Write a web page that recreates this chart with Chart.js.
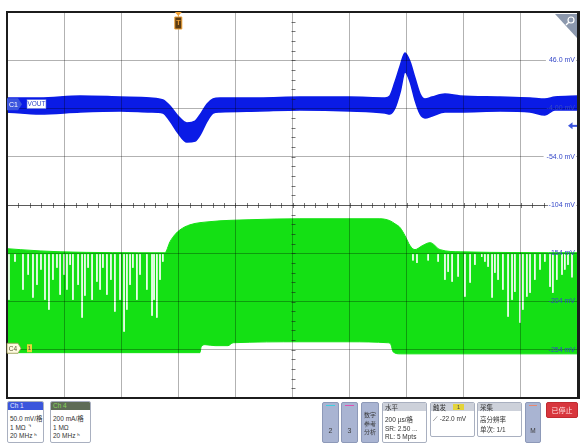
<!DOCTYPE html>
<html>
<head>
<meta charset="utf-8">
<script src="https://cdn.jsdelivr.net/npm/chart.js@4.4.1/dist/chart.umd.min.js"></script>
<style>
  body { margin: 0; width: 582px; height: 445px; background: #fff; position: relative; overflow: hidden;
         font-family: "Liberation Sans", "Noto Sans CJK SC", sans-serif; }
  #scope { position: absolute; left: 0; top: 0; }
  .box { position: absolute; box-sizing: border-box; border: 1px solid #a9b0c0; border-radius: 2px;
         background: #fff; overflow: hidden; color: #333; font-size: 6.5px; }
  .hd { height: 8px; line-height: 8px; padding-left: 2px; font-size: 6.5px; }
  .bd { padding: 4px 0 0 2px; line-height: 8.6px; white-space: nowrap; }
  .key { position: absolute; box-sizing: border-box; border: 1px solid #8d99b8; border-radius: 2px;
         background: #a9b4d2; color: #3a3a3a; text-align: center; font-size: 7px; }
  .key .stripe { position: absolute; left: 3px; right: 3px; top: 2px; height: 1px; }
  .cjk { font-family: "Noto Sans CJK SC", sans-serif; }
</style>
</head>
<body>
<canvas id="scope" width="582" height="445"></canvas>

<!-- channel / timebase / trigger panels -->
<div class="box" style="left:7px;top:401px;width:37px;height:42px">
  <div class="hd" style="background:#3b56dc;color:#e6ebff">Ch 1</div>
  <div class="bd">50.0 mV/<span class="cjk">格</span><br>1 MΩ ⌝<br>20 MHz ʰ</div>
</div>
<div class="box" style="left:50px;top:401px;width:41px;height:42px">
  <div class="hd" style="background:#5e6c56;color:#86d45a">Ch 4</div>
  <div class="bd">200 mA/<span class="cjk">格</span><br>1 MΩ<br>20 MHz ʰ</div>
</div>

<div class="key" style="left:322px;top:402px;width:17px;height:41px">
  <div class="stripe" style="background:#3fd0e0"></div>
  <div style="position:absolute;left:0;right:0;top:24px">2</div>
</div>
<div class="key" style="left:341px;top:402px;width:17px;height:41px">
  <div class="stripe" style="background:#e050b0"></div>
  <div style="position:absolute;left:0;right:0;top:24px">3</div>
</div>
<div class="key cjk" style="left:361px;top:402px;width:18px;height:41px;font-size:6px;line-height:8.5px;padding-top:8px">数字<br>参考<br>分析</div>

<div class="box" style="left:382px;top:402px;width:45px;height:41px">
  <div class="hd cjk" style="background:#cdd1da">水平</div>
  <div class="bd">200 µs/<span class="cjk">格</span><br>SR: 2.50 ...<br>RL: 5 Mpts</div>
</div>
<div class="box" style="left:430px;top:402px;width:45px;height:35px">
  <div class="hd cjk" style="background:#cdd1da;position:relative">触发
    <span style="position:absolute;left:22px;top:1px;width:11px;height:6px;line-height:6px;background:#e4d43a;color:#444;text-align:center;font-size:5.5px;font-family:'Liberation Sans'">1</span></div>
  <div class="bd">⟋ -22.0 mV</div>
</div>
<div class="box" style="left:477px;top:402px;width:45px;height:35px">
  <div class="hd cjk" style="background:#cdd1da">采集</div>
  <div class="bd"><span class="cjk">高分辨率</span><br><span class="cjk">单次</span>: 1/1</div>
</div>
<div class="key" style="left:525px;top:402px;width:16px;height:41px">
  <div class="stripe" style="background:#e88870"></div>
  <div style="position:absolute;left:0;right:0;top:24px;font-size:6.5px">M</div>
</div>
<div class="box cjk" style="left:546px;top:402px;width:32px;height:16px;background:#d8363d;border-color:#c02a30;color:#ffe2e2;text-align:center;line-height:14px;font-size:7px">已停止</div>

<!-- zoom control in the upper right corner -->
<svg style="position:absolute;left:555px;top:14px" width="24" height="26" viewBox="0 0 24 26">
  <polygon points="0,0 22,0 22,24" fill="#8c98ad"/>
  <circle cx="16" cy="6" r="3" fill="none" stroke="#fff" stroke-width="1.2"/>
  <line x1="13.8" y1="8.2" x2="11" y2="11" stroke="#fff" stroke-width="1.4"/>
</svg>

<script>
// ---- Time base: 200 µs/div, trigger at t = 0 ----
const timeMin = -600;
const timeMax = 1400;
const timeStep = 200;

// ---- Ch1 (VOUT), 50 mV/div ----
const voltMin = -304;
const voltMax = 96;
const voltStep = 50;
const voltTicks = [46, -4, -54, -104, -154, -204, -254];
const voltTickLabels = ['46.0 mV', '-4.00 mV', '-54.0 mV', '-104 mV', '-154 mV', '-204 mV', '-254 mV'];
// labels that sit on a clear background get a white plate behind them
const platedTicks = [46, -54, -104];
const triggerLevel = -22.0;

// ---- Ch4 (inductor current), 200 mA/div ----
const currMin = -200;
const currMax = 1400;

// VOUT trace: upper and lower edge of the noise band (mV)
const voutTime = [-600, -484, -344, -204, -99, -54, -29, -1, 30, 59, 76, 101, 122, 146, 286, 426, 601, 724, 741, 759, 777, 794, 812, 829, 847, 864, 889, 934, 987, 1127, 1232, 1284, 1319, 1400];
const voutHigh = [6.9, 6.9, 9.0, 7.9, 6.9, 4.8, -1.4, -11.8, -19.0, -17.0, -10.7, 0.7, 5.8, 6.9, 6.9, 7.9, 7.9, 6.9, 9.0, 23.5, 40.0, 53.5, 44.2, 27.6, 11.0, 5.8, 7.9, 11.0, 9.0, 7.9, 6.9, 5.8, 7.9, 9.0];
const voutLow = [-7.6, -9.7, -7.6, -6.6, -7.6, -8.7, -17.0, -29.4, -38.7, -37.7, -31.5, -17.0, -8.7, -7.6, -6.6, -5.6, -6.6, -8.7, -9.7, -3.5, 13.1, 33.8, 23.5, 4.8, -9.7, -13.8, -11.8, -7.6, -7.6, -6.6, -7.6, -10.7, -5.6, -5.6];

// Current: peak envelope of the switching ripple (mA)
const peakTime = [-600, -554, -414, -47, -29, -12, 6, 41, 111, 251, 426, 706, 741, 759, 777, 794, 812, 829, 854, 882, 917, 987, 1400];
const peakCurrent = [419, 415, 406, 402, 448, 477, 497, 518, 531, 539, 543, 543, 535, 522, 506, 473, 431, 415, 431, 444, 415, 406, 402];

// Current: valley envelope of the switching ripple (mA)
const valleyTime = [-600, 76, 80, 94, 129, 174, 192, 426, 601, 734, 745, 752, 777, 1400];
const valleyCurrent = [-12, -12, 12, 21, 17, 17, 29, 33, 33, 29, 21, -8, -17, -17];

// Ripple dropouts: where the peak level is missed, and how far down it goes (mA)
const dropTop = 396;
const dropTime = [-593, -572, -544, -526, -509, -495, -481, -467, -453, -439, -425, -414, -400, -390, -379, -369, -351, -337, -327, -316, -302, -285, -274, -264, -250, -236, -222, -204, -190, -180, -169, -159, -145, -134, -110, -92, -85, -75, -64, -54,
                  822, 836, 875, 910, 934, 945, 959, 980, 1004, 1022, 1039, 1063, 1074, 1085, 1099, 1109, 1120, 1137, 1155, 1169, 1179, 1197, 1207, 1221, 1232, 1249, 1267, 1284, 1302, 1312, 1326, 1344, 1354, 1365, 1379];
const dropLow = [207, 365, 249, 311, 216, 269, 332, 207, 166, 290, 340, 228, 311, 249, 352, 207, 269, 133, 224, 340, 207, 282, 249, 340, 228, 290, 158, 207, 75, 166, 269, 340, 207, 311, 249, 141, 207, 133, 290, 365,
                 370, 360, 370, 365, 290, 323, 282, 303, 220, 278, 352, 385, 365, 344, 216, 319, 290, 249, 137, 207, 240, 112, 166, 220, 236, 290, 332, 365, 261, 236, 290, 311, 332, 352, 300];

const BLUE = '#0a1be6';
const GREEN = '#14e014';
const GRID = 'rgba(0,0,0,0.3)';
const LABEL_BLUE = '#3548c8';

const pairs = (xs, ys) => xs.map((x, i) => ({ x, y: ys[i] }));

const dropData = [];
dropTime.forEach((t, i) => {
  dropData.push({ x: t, y: dropTop }, { x: t, y: dropLow[i] }, { x: t, y: null });
});

const gridVolts = [];
for (let v = voltMin; v <= voltMax; v += voltStep) gridVolts.push(v);

// Frame, centre axes with minor ticks, channel tags and markers
const scopeOverlay = {
  id: 'scopeOverlay',
  afterDraw(chart) {
    const { ctx, chartArea: a, scales } = chart;
    const x = scales.x, y = scales.y, yI = scales.yI;
    ctx.save();

    // centre cross with minor divisions
    const cx = Math.round(x.getPixelForValue((timeMin + timeMax) / 2)) + 0.5;
    const cy = Math.round(y.getPixelForValue((voltMin + voltMax) / 2)) + 0.5;
    ctx.strokeStyle = 'rgba(30,30,30,0.6)';
    ctx.lineWidth = 1;
    ctx.beginPath();
    ctx.moveTo(a.left, cy); ctx.lineTo(a.right - 30, cy);
    for (let t = timeMin; t <= timeMax; t += timeStep / 5) {
      const px = Math.round(x.getPixelForValue(t)) + 0.5;
      if (px > a.right - 30) continue;
      ctx.moveTo(px, cy - 2.5); ctx.lineTo(px, cy + 2.5);
    }
    for (let v = voltMin; v <= voltMax; v += voltStep / 5) {
      const py = Math.round(y.getPixelForValue(v)) + 0.5;
      ctx.moveTo(cx - 2, py); ctx.lineTo(cx + 2, py);
    }
    ctx.stroke();

    // frame
    ctx.fillStyle = '#1c1c1c';
    ctx.fillRect(a.left - 1, a.top - 1, a.right - a.left + 2, 2);
    ctx.fillRect(a.left - 1, a.bottom - 1, a.right - a.left + 2, 2);
    ctx.fillRect(a.left - 1, a.top - 1, 2, a.bottom - a.top + 2);
    ctx.fillRect(a.right - 1, a.top - 1, 3, a.bottom - a.top + 2);

    // trigger position marker
    const tx = x.getPixelForValue(0);
    ctx.fillStyle = '#f2a133';
    ctx.beginPath();
    ctx.moveTo(tx - 3.5, a.top); ctx.lineTo(tx + 3.5, a.top); ctx.lineTo(tx, a.top + 4);
    ctx.fill();
    ctx.fillStyle = '#5b3b12';
    ctx.strokeStyle = '#f2a133';
    ctx.lineWidth = 1;
    ctx.beginPath();
    ctx.rect(tx - 3.5, a.top + 5, 7, 12);
    ctx.fill(); ctx.stroke();
    ctx.fillStyle = '#f2a133';
    ctx.font = 'bold 7px "Liberation Sans"';
    ctx.textAlign = 'center'; ctx.textBaseline = 'middle';
    ctx.fillText('T', tx, a.top + 11.5);

    // Ch1 ground tag and name
    const y1 = y.getPixelForValue(0) - 0.5;
    ctx.fillStyle = '#3c55de';
    ctx.beginPath();
    ctx.moveTo(a.left, y1 - 6); ctx.lineTo(a.left + 11, y1 - 6); ctx.lineTo(a.left + 15, y1);
    ctx.lineTo(a.left + 11, y1 + 6); ctx.lineTo(a.left, y1 + 6);
    ctx.closePath(); ctx.fill();
    ctx.fillStyle = '#fff';
    ctx.font = '7px "Liberation Sans"';
    ctx.fillText('C1', a.left + 6.5, y1 + 0.5);
    ctx.fillStyle = '#fff';
    ctx.fillRect(a.left + 20, y1 - 4.5, 19, 9);
    ctx.strokeStyle = '#5a6fe0'; ctx.lineWidth = 0.6;
    ctx.strokeRect(a.left + 20, y1 - 4.5, 19, 9);
    ctx.fillStyle = '#2f45c8';
    ctx.font = '6.5px "Liberation Sans"';
    ctx.fillText('VOUT', a.left + 29.5, y1 + 0.5);

    // Ch4 ground tag
    const y4 = yI.getPixelForValue(0) - 1.5;
    ctx.fillStyle = '#fffbe2';
    ctx.strokeStyle = '#9c9650'; ctx.lineWidth = 0.8;
    ctx.beginPath();
    ctx.moveTo(a.left, y4 - 5); ctx.lineTo(a.left + 11, y4 - 5); ctx.lineTo(a.left + 14, y4);
    ctx.lineTo(a.left + 11, y4 + 5); ctx.lineTo(a.left, y4 + 5);
    ctx.closePath(); ctx.fill(); ctx.stroke();
    ctx.fillStyle = '#55552a';
    ctx.font = '6.5px "Liberation Sans"';
    ctx.fillText('C4', a.left + 6, y4 + 0.5);
    ctx.fillStyle = '#e6d63c';
    ctx.fillRect(a.left + 20, y4 - 4, 5, 8);
    ctx.fillStyle = '#444';
    ctx.font = '6px "Liberation Sans"';
    ctx.fillText('1', a.left + 22.5, y4 + 0.5);

    // trigger level arrow on the right edge
    const ty = y.getPixelForValue(triggerLevel);
    ctx.fillStyle = '#3c55de';
    ctx.beginPath();
    ctx.moveTo(a.right - 10, ty); ctx.lineTo(a.right - 5.5, ty - 3.5); ctx.lineTo(a.right - 5.5, ty + 3.5);
    ctx.closePath(); ctx.fill();
    ctx.fillRect(a.right - 6, ty - 1, 5, 2);

    ctx.restore();
  }
};

new Chart(document.getElementById('scope'), {
  type: 'line',
  data: {
    datasets: [
      { label: 'ripple dropouts', data: dropData, yAxisID: 'yI',
        borderColor: 'rgba(255,255,255,0.92)', borderWidth: 1, pointRadius: 0,
        spanGaps: false, fill: false, tension: 0 },
      { label: 'VOUT high', data: pairs(voutTime, voutHigh), yAxisID: 'y',
        borderColor: BLUE, backgroundColor: BLUE, borderWidth: 1.5, pointRadius: 0,
        fill: '+1', cubicInterpolationMode: 'monotone' },
      { label: 'VOUT low', data: pairs(voutTime, voutLow), yAxisID: 'y',
        borderColor: BLUE, borderWidth: 1.5, pointRadius: 0, fill: false,
        cubicInterpolationMode: 'monotone' },
      { label: 'I peak', data: pairs(peakTime, peakCurrent), yAxisID: 'yI',
        borderColor: GREEN, backgroundColor: GREEN, borderWidth: 1, pointRadius: 0,
        fill: '+1', cubicInterpolationMode: 'monotone' },
      { label: 'I valley', data: pairs(valleyTime, valleyCurrent), yAxisID: 'yI',
        borderColor: GREEN, borderWidth: 1, pointRadius: 0, fill: false,
        cubicInterpolationMode: 'monotone' }
    ]
  },
  options: {
    responsive: false,
    animation: false,
    devicePixelRatio: 1,
    events: [],
    layout: { padding: { left: 7, top: 12, right: 4, bottom: 47 } },
    plugins: { legend: { display: false }, tooltip: { enabled: false } },
    scales: {
      x: {
        type: 'linear', min: timeMin, max: timeMax,
        ticks: { display: false, stepSize: timeStep },
        grid: { color: GRID, drawTicks: false, z: 1 },
        border: { display: false }
      },
      y: {
        type: 'linear', position: 'right', min: voltMin, max: voltMax,
        afterBuildTicks: (scale) => { scale.ticks = gridVolts.map(v => ({ value: v })); },
        afterFit: (scale) => { scale.width = 0; },
        ticks: {
          mirror: true, padding: -3, z: 2, color: LABEL_BLUE,
          font: { family: "'Liberation Sans Narrow', 'Liberation Sans', sans-serif", size: 7 },
          showLabelBackdrop: true,
          backdropPadding: { top: 1, bottom: 1, left: 3, right: 1 },
          backdropColor: (ctx) => (ctx.tick && platedTicks.includes(ctx.tick.value)) ? '#ffffff' : 'rgba(0,0,0,0)',
          callback: (v) => { const i = voltTicks.indexOf(v); return i < 0 ? '' : voltTickLabels[i]; }
        },
        grid: { color: GRID, drawTicks: false, z: 1 },
        border: { display: false }
      },
      yI: { type: 'linear', display: false, min: currMin, max: currMax }
    }
  },
  plugins: [scopeOverlay]
});
</script>
</body>
</html>
